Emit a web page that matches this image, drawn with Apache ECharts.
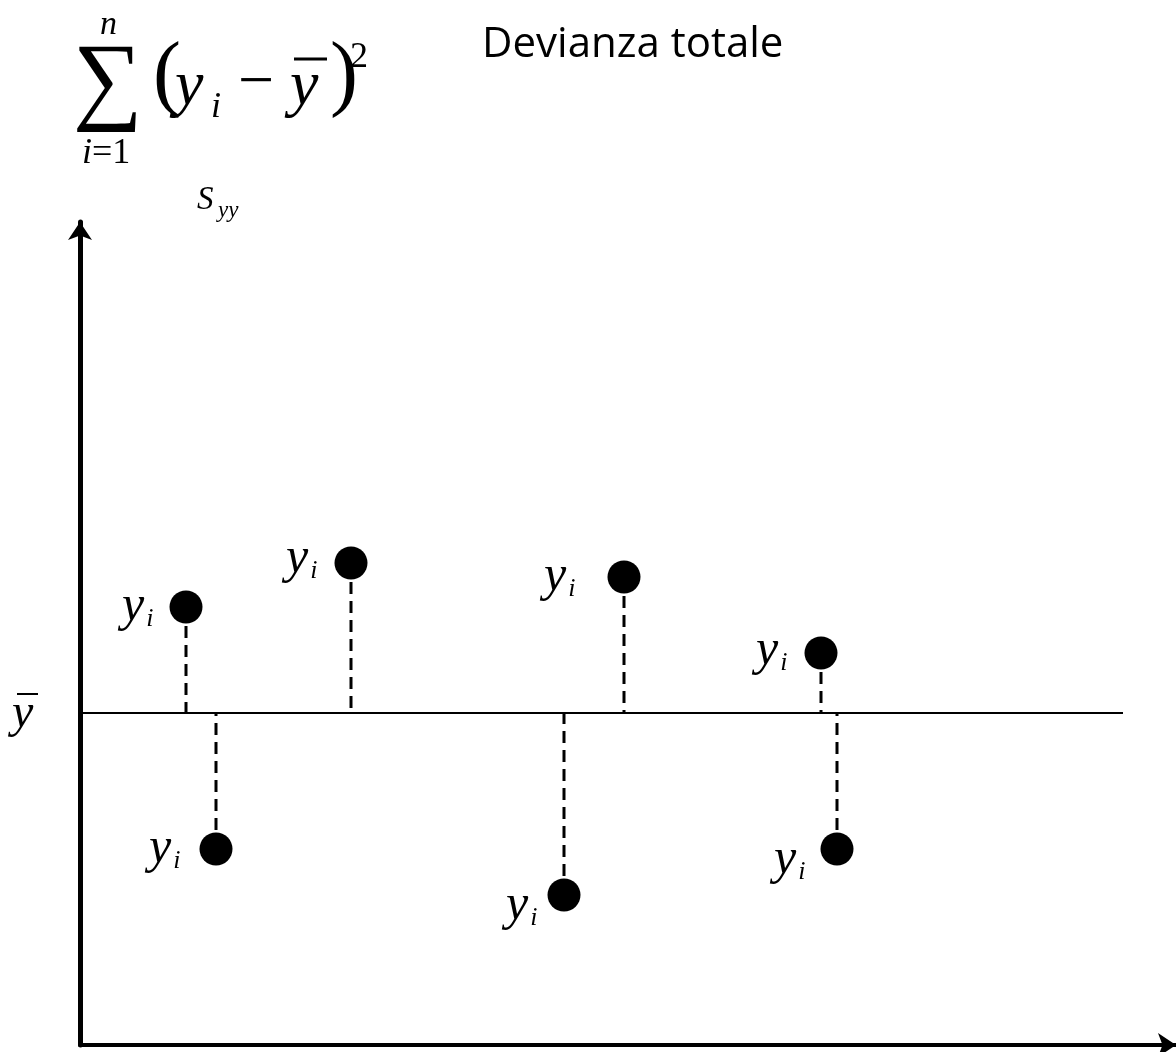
<!DOCTYPE html>
<html><head><meta charset="utf-8">
<script src="https://cdn.jsdelivr.net/npm/echarts@6/dist/echarts.min.js"></script>
<style>html,body{margin:0;padding:0;background:#fff}#c{width:1176px;height:1052px}</style>
</head><body><div id="c"></div>
<script>
// ---- data ----
const pointX = [106, 136, 271, 484, 544, 741, 757];
const pointY = [438, 196, 482, 150, 468, 392, 196];
const meanY = 332;
const meanLineEndX = 1043;
const xRange = [0, 1096];
const yRange = [0, 823];
const pointLabelMain = 'y';
const pointLabelSub = 'i';
const titleText = 'Devianza totale';
// ---- layout only (label nudges per point: [distance, dy]) ----
const labelLayout = [[16,0],[19,0],[17,-4],[10,11],[32,0],[17,-2],[15,11]];

const serif = '"Liberation Serif","Times New Roman",serif';
const chart = echarts.init(document.getElementById('c'));

const pts = pointX.map((x,i)=>[x, pointY[i]]);

chart.setOption({
  animation:false,
  backgroundColor:'#fff',
  grid:{left:80, right:0, top:222, bottom:7},
  xAxis:{type:'value', min:xRange[0], max:xRange[1],
    axisLine:{show:true,onZero:false,lineStyle:{color:'#000',width:4},symbol:['none','arrow'],symbolSize:[18,18]},
    axisTick:{show:false},axisLabel:{show:false},splitLine:{show:false}},
  yAxis:{type:'value', min:yRange[0], max:yRange[1],
    axisLine:{show:true,onZero:false,lineStyle:{color:'#000',width:5},symbol:['none','arrow'],symbolSize:[18,18]},
    axisTick:{show:false},axisLabel:{show:false},splitLine:{show:false}},
  series:[
    {type:'line', data:[[xRange[0],meanY],[meanLineEndX,meanY]], symbol:'none', silent:true,
     lineStyle:{color:'#000',width:2}, z:1},
    {type:'custom', data:pts, z:2, silent:true,
     renderItem:function(params, api){
       const p = api.coord([api.value(0), api.value(1)]);
       const m = api.coord([api.value(0), meanY]);
       const dir = m[1] > p[1] ? 1 : -1;
       return {type:'line', shape:{x1:p[0], y1:p[1]+dir*19, x2:m[0], y2:m[1]},
         style:{stroke:'#000', lineWidth:3, lineDash:[12,7]}};
     }},
    {type:'scatter', data:pts.map((p,i)=>({value:p, label:{distance:labelLayout[i][0], offset:[0,labelLayout[i][1]]}})),
     symbol:'circle', symbolSize:33, itemStyle:{color:'#000', opacity:1}, z:3, silent:true,
     label:{show:true, position:'left', color:'#000', opacity:1,
       formatter:'{a|'+pointLabelMain+'}{b|'+pointLabelSub+'}',
       rich:{a:{fontFamily:serif,fontStyle:'italic',fontSize:50,color:'#000'},
             b:{fontFamily:serif,fontStyle:'italic',fontSize:26,color:'#000',verticalAlign:'bottom',padding:[18,0,0,2]}}}}
  ],
  graphic:[
    {type:'text', left:73, top:36, style:{text:'\u2211', font:'98px '+serif, fill:'#000'}},
    {type:'text', left:100, top:8, style:{text:'n', font:'italic 34px '+serif, fill:'#000'}},
    {type:'text', left:82, top:136, style:{rich:{a:{fontFamily:serif,fontStyle:'italic',fontSize:36},b:{fontFamily:serif,fontSize:36}}, text:'{a|i}{b|=1}', fill:'#000'}},
    {type:'text', left:153, top:36, style:{text:'(', font:'84px '+serif, fill:'#000'}},
    {type:'text', left:175, top:55, style:{text:'y', font:'italic 64px '+serif, fill:'#000'}},
    {type:'text', left:211, top:90, style:{text:'i', font:'italic 36px '+serif, fill:'#000'}},
    {type:'text', left:238, top:52, style:{text:'\u2212', font:'64px '+serif, fill:'#000'}},
    {type:'text', left:290, top:55, style:{text:'y', font:'italic 64px '+serif, fill:'#000'}},
    {type:'line', shape:{x1:294,y1:59,x2:327,y2:59}, style:{stroke:'#000',lineWidth:3}},
    {type:'text', left:330, top:36, style:{text:')', font:'84px '+serif, fill:'#000'}},
    {type:'text', left:350, top:40, style:{text:'2', font:'36px '+serif, fill:'#000'}},
    {type:'text', left:482, top:24, style:{text:titleText, font:'42px "Open Sans", sans-serif', fill:'#000'}},
    {type:'text', left:197, top:184, style:{text:'S', font:'italic 33px '+serif, fill:'#000'}},
    {type:'text', left:218, top:199, style:{text:'yy', font:'italic 23px '+serif, fill:'#000'}},
    {type:'text', left:12, top:690, style:{text:'y', font:'italic 48px '+serif, fill:'#000'}},
    {type:'line', shape:{x1:17,y1:694,x2:38,y2:694}, style:{stroke:'#000',lineWidth:2}}
  ]
});
</script></body></html>
